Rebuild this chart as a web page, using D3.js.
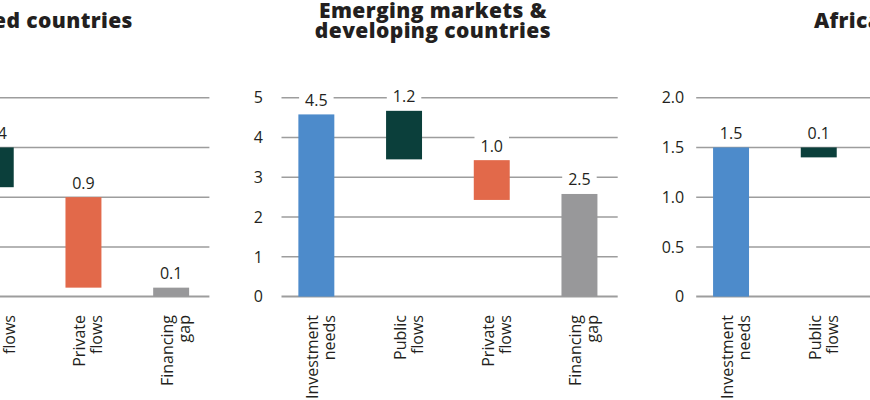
<!DOCTYPE html>
<html>
<head>
<meta charset="utf-8">
<script src="https://cdn.jsdelivr.net/npm/d3@7"></script>
<style>
  body { margin: 0; background: #fff; }
  text { font-family: "Open Sans", Lato, sans-serif; fill: #231f20; }
</style>
</head>
<body>
<div id="chart"></div>
<script>
// categories shared by all three panels
var categories = [["Investment", "needs"], ["Public", "flows"], ["Private", "flows"], ["Financing", "gap"]];

// Developed countries
var devTitle = ["Developed countries"];
var devLow = [0, 1.1, 0.09, 0];
var devHigh = [1.5, 1.5, 1.0, 0.09];
var devLabels = ["1.5", "0.4", "0.9", "0.1"];
var devTicks = [0, 0.5, 1.0, 1.5, 2.0];
var devTickLabels = ["0", "0.5", "1.0", "1.5", "2.0"];

// Emerging markets & developing countries
var emTitle = ["Emerging markets &", "developing countries"];
var emLow = [0, 3.45, 2.43, 0];
var emHigh = [4.58, 4.67, 3.43, 2.58];
var emLabels = ["4.5", "1.2", "1.0", "2.5"];
var emTicks = [0, 1, 2, 3, 4, 5];
var emTickLabels = ["0", "1", "2", "3", "4", "5"];

// Africa
var afTitle = ["Africa"];
var afLow = [0, 1.4, 1.3, 0];
var afHigh = [1.5, 1.5, 1.4, 1.3];
var afLabels = ["1.5", "0.1", "0.1", "1.3"];
var afTicks = [0, 0.5, 1.0, 1.5, 2.0];
var afTickLabels = ["0", "0.5", "1.0", "1.5", "2.0"];

var colors = ["#4d8bcb", "#0b3f3b", "#e2694a", "#98989a"];

var svgWidth = 870;
var svgHeight = 400;

var svg = d3.select("#chart")
    .append("svg")
    .attr("width", svgWidth)
    .attr("height", svgHeight);

var panels = [
    { title: devTitle, low: devLow, high: devHigh, labels: devLabels, ticks: devTicks, tickLabels: devTickLabels, max: 2, x0: -135.8, x1: 215, tickGap: 12, titleDx: -22 },
    { title: emTitle, low: emLow, high: emHigh, labels: emLabels, ticks: emTicks, tickLabels: emTickLabels, max: 5, x0: 272.5, x1: 623.3, tickGap: 18.5, titleDx: -15 },
    { title: afTitle, low: afLow, high: afHigh, labels: afLabels, ticks: afTicks, tickLabels: afTickLabels, max: 2, x0: 687.2, x1: 1038, tickGap: 12, titleDx: -15 }
];

panels.forEach(function(p) {
    var g = svg.append("g");

    var xScale = d3.scaleBand()
        .domain(categories.map(function(c) { return c.join(" "); }))
        .range([p.x0, p.x1])
        .paddingInner(0.59)
        .paddingOuter(0.295);

    var yScale = d3.scaleLinear()
        .domain([0, p.max])
        .range([296.6, 97.7]);

    var gridX0 = p.x0 + 9;
    var gridX1 = p.x1 - 5.6;

    // gridlines
    g.selectAll("line.grid")
        .data(p.ticks)
        .enter()
        .append("line")
        .attr("x1", gridX0)
        .attr("x2", gridX1)
        .attr("y1", function(d) { return yScale(d); })
        .attr("y2", function(d) { return yScale(d); })
        .attr("stroke", "#9d9d9d")
        .attr("stroke-width", function(d) { return d === 0 ? 2 : 1.5; });

    // y tick labels
    g.selectAll("text.tick")
        .data(p.ticks)
        .enter()
        .append("text")
        .attr("x", gridX0 - p.tickGap)
        .attr("y", function(d) { return yScale(d); })
        .attr("dy", "0.36em")
        .attr("text-anchor", "end")
        .style("font-size", "16px")
        .text(function(d, i) { return p.tickLabels[i]; });

    // bars
    g.selectAll("rect.bar")
        .data(categories)
        .enter()
        .append("rect")
        .attr("x", function(c) { return xScale(c.join(" ")); })
        .attr("width", xScale.bandwidth())
        .attr("y", function(c, i) { return yScale(p.high[i]); })
        .attr("height", function(c, i) { return yScale(p.low[i]) - yScale(p.high[i]); })
        .attr("fill", function(c, i) { return colors[i]; });

    // value labels with white box behind
    var vl = g.selectAll("g.val")
        .data(categories)
        .enter()
        .append("g")
        .attr("transform", function(c, i) {
            return "translate(" + (xScale(c.join(" ")) + xScale.bandwidth() / 2) + "," + (yScale(p.high[i]) - 8.5) + ")";
        });

    vl.append("text")
        .attr("text-anchor", "middle")
        .style("font-size", "16px")
        .text(function(c, i) { return p.labels[i]; });

    vl.each(function() {
        var t = d3.select(this).select("text");
        var b = t.node().getBBox();
        d3.select(this).insert("rect", "text")
            .attr("x", b.x - 6)
            .attr("y", b.y)
            .attr("width", b.width + 12)
            .attr("height", b.height)
            .attr("fill", "#fff");
    });

    // category labels, rotated
    var cl = g.selectAll("g.cat")
        .data(categories)
        .enter()
        .append("g")
        .attr("transform", function(c) {
            return "translate(" + (xScale(c.join(" ")) + xScale.bandwidth() / 2) + ",315) rotate(-90)";
        });

    cl.append("text")
        .attr("text-anchor", "end")
        .style("font-size", "16px")
        .selectAll("tspan")
        .data(function(c) { return c; })
        .enter()
        .append("tspan")
        .attr("x", 0)
        .attr("y", function(d, i) { return i === 0 ? 2 : 19; });

    cl.selectAll("tspan").text(function(d) { return d; });

    // panel title
    var cx = (p.x0 + p.x1) / 2 + p.titleDx;
    var tY = p.title.length === 1 ? [28] : [17.5, 38];
    g.append("text")
        .attr("text-anchor", "middle")
        .style("font-size", "21px")
        .style("letter-spacing", "0.4px")
        .style("font-weight", "800")
        .selectAll("tspan")
        .data(p.title)
        .enter()
        .append("tspan")
        .attr("x", cx)
        .attr("y", function(d, i) { return tY[i]; })
        .text(function(d) { return d; });
});
</script>
</body>
</html>
